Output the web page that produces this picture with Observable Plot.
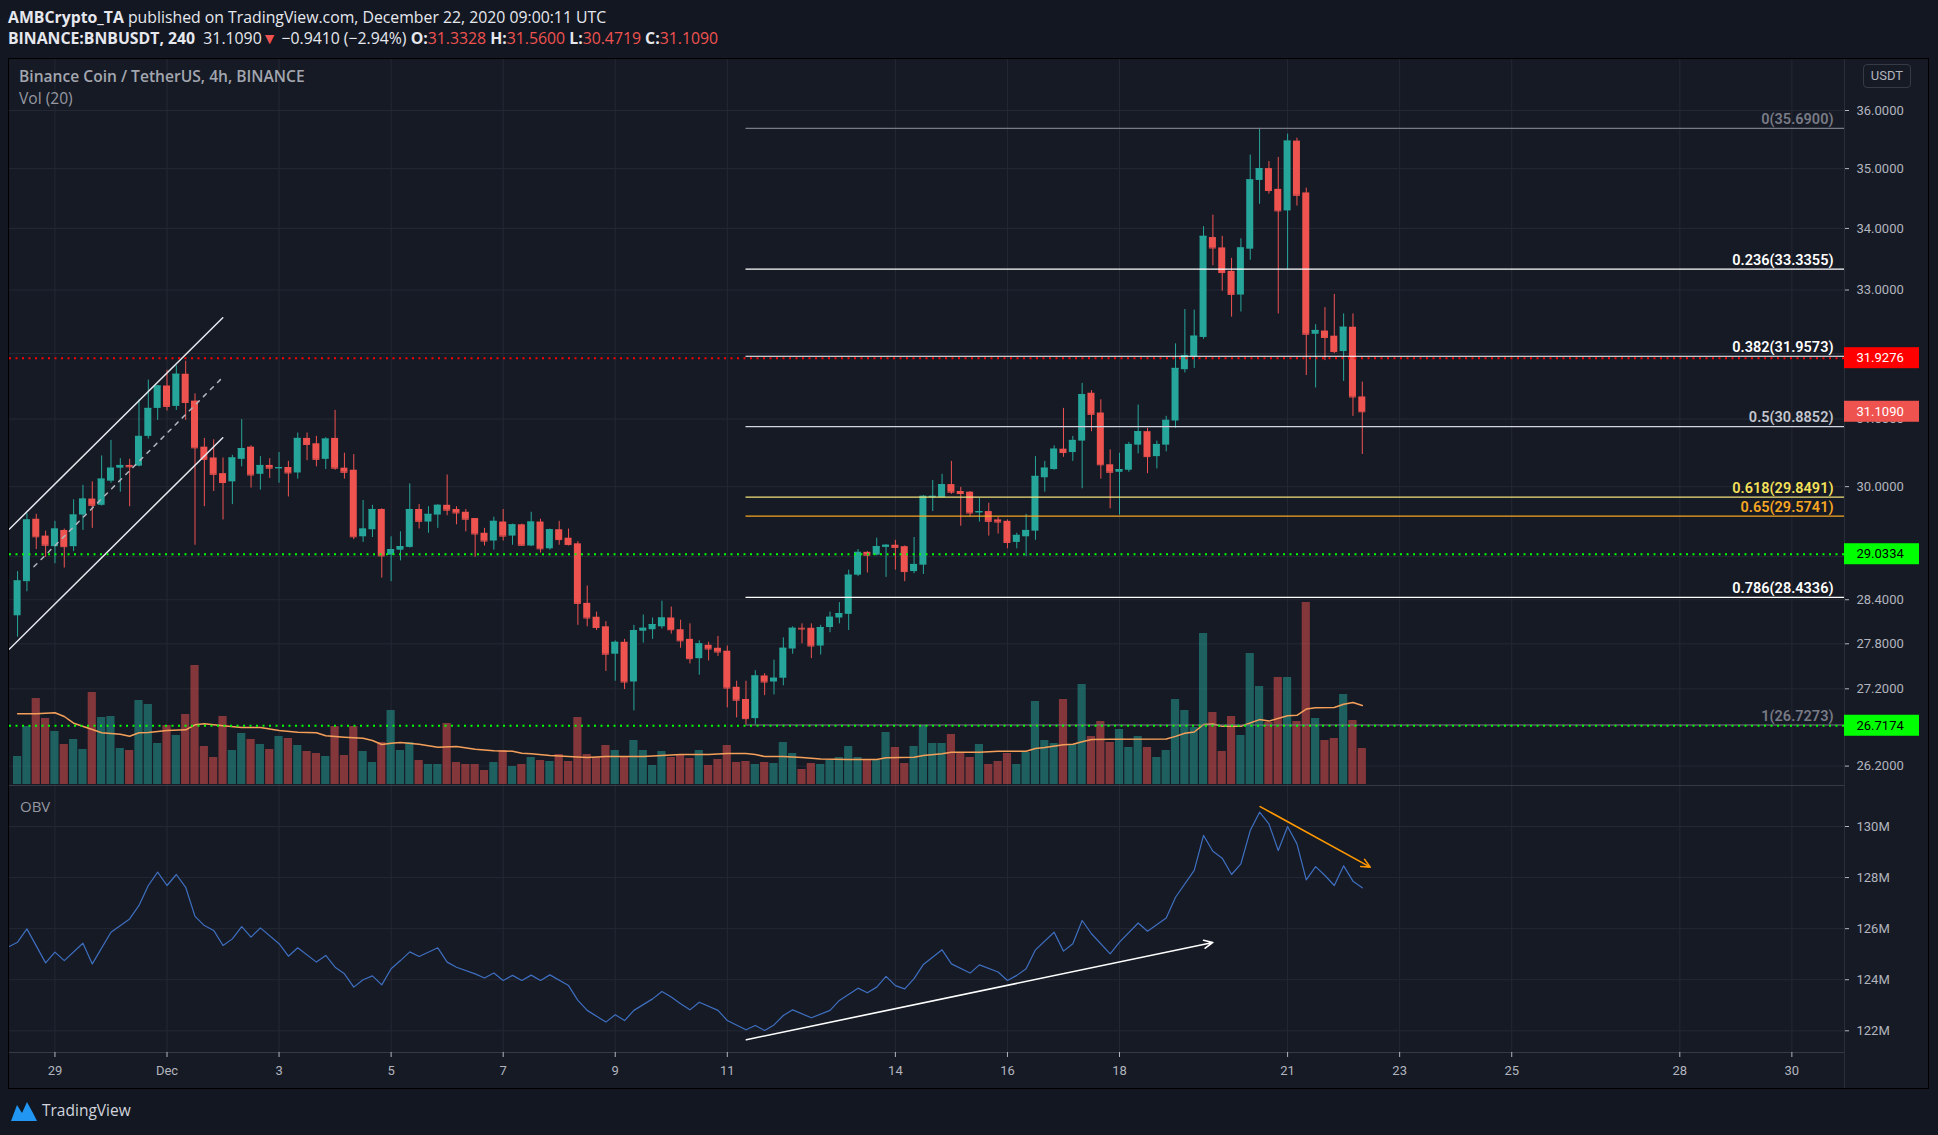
<!DOCTYPE html>
<html>
<head>
<meta charset="utf-8">
<script src="https://cdn.jsdelivr.net/npm/d3@7"></script>
<script src="https://cdn.jsdelivr.net/npm/@observablehq/plot@0.6"></script>
<style>
html,body{margin:0;padding:0;background:#131722;}
#wrap{position:relative;width:1938px;height:1135px;overflow:hidden;background:#131722;font-family:"Open Sans",sans-serif;}
#pane{position:absolute;left:8px;top:58px;width:1921px;height:1031px;box-sizing:border-box;background:#161a25;border:1px solid #000;}
.sep{position:absolute;background:#2a2e39;}
#layers{position:absolute;left:0;top:0;width:1938px;height:1135px;}
#layers svg{position:absolute;left:0;top:0;}
.txt{position:absolute;white-space:nowrap;line-height:20px;}
#usdt{position:absolute;left:1863px;top:64px;width:48px;height:24px;box-sizing:border-box;border:1px solid #363a45;border-radius:4px;color:#b2b5be;font:13px Roboto,sans-serif;text-align:center;line-height:22px;}
</style>
</head>
<body>
<div id="wrap">
  <div id="pane"></div>
  <div class="sep" style="left:1844px;top:59px;width:1px;height:1029px;"></div>
  <div class="sep" style="left:9px;top:785px;width:1835px;height:1px;background:#363a45"></div>
  <div class="sep" style="left:9px;top:1052px;width:1835px;height:1px;background:#363a45"></div>
  <div id="layers"></div>
  <div class="txt" style="left:8px;top:7px;font-size:15.8px;color:#e6e8ee;"><b>AMBCrypto_TA</b> published on TradingView.com, December 22, 2020 09:00:11 UTC</div>
  <div class="txt" style="left:8px;top:28px;font-size:15.8px;color:#e6e8ee;"><b>BINANCE:BNBUSDT, 240</b>&nbsp; 31.1090<span style="color:#ef5350">▼</span> −0.9410 (−2.94%) <b>O:</b><span style="color:#ef5350">31.3328</span> <b>H:</b><span style="color:#ef5350">31.5600</span> <b>L:</b><span style="color:#ef5350">30.4719</span> <b>C:</b><span style="color:#ef5350">31.1090</span></div>
  <div class="txt" style="left:19px;top:66px;font-size:15.6px;font-weight:600;color:#a3a6af;">Binance Coin / TetherUS, 4h, BINANCE</div>
  <div class="txt" style="left:19px;top:88px;font-size:15.6px;color:#9598a1;">Vol (20)</div>
  <div class="txt" style="left:20px;top:796px;font-size:15px;color:#9598a1;">OBV</div>
  <div id="usdt">USDT</div>
  <svg style="position:absolute;left:9px;top:1099px" width="30" height="24" viewBox="0 0 30 24">
    <path d="M2 22 L8 6 L13 14 L18 3 L24 14 L28 22 Z" fill="#2196f3"/>
  </svg>
  <div class="txt" style="left:42px;top:1100px;font-size:15.5px;color:#d1d4dc;">TradingView</div>
</div>
<script>
// ---------- data (4h candles from 2020-11-28 08:00 UTC) ----------
const opens  = [28.18,28.65,29.53,29.29,29.14,29.37,29.14,29.59,29.82,29.73,30.08,30.27,30.31,30.30,30.74,31.16,31.50,31.19,31.68,31.27,30.58,30.42,30.19,30.07,30.40,30.58,30.18,30.31,30.26,30.28,30.20,30.71,30.63,30.40,30.71,30.27,30.24,29.28,29.38,29.67,29.02,29.09,29.13,29.67,29.49,29.59,29.73,29.67,29.63,29.54,29.33,29.22,29.49,29.29,29.45,29.15,29.49,29.11,29.38,29.26,29.18,28.35,28.16,28.03,27.66,27.82,27.29,27.97,27.99,28.03,28.15,27.99,27.86,27.60,27.78,27.74,27.70,27.22,27.06,26.81,27.37,27.29,27.34,27.73,28.01,28.01,27.77,28.02,28.15,28.20,28.74,29.06,29.02,29.13,29.16,29.14,28.79,28.88,29.84,29.84,30.03,29.93,29.92,29.62,29.64,29.52,29.50,29.20,29.28,29.36,30.13,30.25,30.55,30.50,30.67,31.39,31.09,30.32,30.21,30.24,30.61,30.81,30.44,30.61,30.97,31.75,31.95,32.25,33.85,33.68,33.30,32.92,33.66,34.80,35.00,34.65,34.29,35.47,34.59,32.30,32.35,32.27,32.03,32.41,31.3328];
const highs  = [28.79,29.61,29.60,29.36,29.50,29.39,29.81,30.02,30.07,30.45,30.68,30.41,30.40,31.29,31.59,31.51,31.74,31.81,31.88,31.38,30.71,30.69,30.42,30.46,30.99,30.60,30.44,30.41,30.50,30.37,30.79,30.79,30.74,30.72,31.13,30.49,30.47,29.80,29.73,29.68,29.28,29.35,30.04,29.74,29.71,29.74,30.17,29.71,29.67,29.54,29.40,29.56,29.67,29.46,29.46,29.63,29.53,29.39,29.50,29.39,29.21,28.59,28.23,28.10,27.84,27.86,28.05,28.19,28.15,28.38,28.30,28.12,28.07,27.84,27.82,27.90,27.77,27.30,27.30,27.44,27.40,27.58,27.88,28.03,28.07,28.07,28.05,28.23,28.36,28.81,29.10,29.07,29.26,29.17,29.23,29.15,29.27,29.87,30.09,30.18,30.37,29.99,29.93,29.83,29.76,29.56,29.52,29.33,29.60,30.44,30.37,30.60,31.16,30.74,31.54,31.43,31.29,30.54,30.49,30.65,31.21,30.86,30.67,31.04,32.15,32.69,32.68,34.03,34.22,33.87,33.51,33.83,35.23,35.69,35.12,35.19,35.59,35.52,34.67,32.45,32.72,32.93,32.62,32.62,31.56];
const lows   = [27.89,28.51,29.10,28.99,28.90,28.84,29.07,29.37,29.40,29.72,30.05,29.92,29.71,30.29,30.70,30.98,31.12,31.13,30.98,29.16,29.71,29.93,29.52,29.74,30.29,29.98,29.95,30.12,30.05,29.85,30.11,30.38,30.29,30.25,30.24,30.11,29.24,29.20,29.27,28.70,28.65,28.94,29.12,29.39,29.33,29.40,29.58,29.45,29.35,28.99,29.15,29.09,29.22,29.16,29.15,29.14,29.05,29.09,29.16,29.15,28.05,28.03,27.98,27.43,27.30,27.19,26.91,27.81,27.86,28.00,27.93,27.74,27.53,27.38,27.57,27.63,26.95,26.82,26.7273,26.73,27.11,27.12,27.24,27.66,27.80,27.60,27.65,27.95,28.07,27.98,28.72,28.77,29.01,28.71,28.81,28.65,28.76,28.75,29.64,29.84,29.89,29.43,29.57,29.49,29.29,29.32,29.11,29.11,29.00,29.23,29.92,30.24,30.43,30.37,29.97,30.81,30.11,29.68,29.59,30.21,30.48,30.19,30.26,30.51,30.86,31.70,31.77,32.22,33.39,32.98,32.57,32.65,33.48,34.40,34.57,32.62,33.33,34.37,31.66,31.47,31.89,32.00,31.57,31.04,30.4719];
const closes = [28.66,29.52,29.28,29.16,29.39,29.14,29.59,29.82,29.73,30.11,30.27,30.31,30.29,30.74,31.16,31.50,31.19,31.68,31.25,30.57,30.40,30.18,30.06,30.42,30.56,30.17,30.31,30.27,30.28,30.20,30.71,30.62,30.40,30.70,30.27,30.21,29.28,29.39,29.67,29.01,29.10,29.14,29.67,29.50,29.60,29.73,29.66,29.62,29.53,29.32,29.22,29.50,29.29,29.45,29.16,29.49,29.11,29.38,29.24,29.17,28.35,28.15,28.02,27.66,27.82,27.29,27.98,28.01,28.06,28.15,27.99,27.84,27.60,27.80,27.73,27.69,27.21,27.05,26.81,27.37,27.29,27.34,27.74,28.01,28.00,27.77,28.02,28.16,28.21,28.74,29.06,29.02,29.14,29.16,29.13,28.79,28.89,29.86,29.86,30.03,29.92,29.90,29.62,29.64,29.50,29.49,29.20,29.30,29.37,30.15,30.27,30.55,30.50,30.68,31.37,31.07,30.32,30.21,30.25,30.62,30.81,30.44,30.62,30.98,31.77,31.97,32.27,33.87,33.68,33.28,32.93,33.68,34.81,35.00,34.63,34.29,35.47,34.55,32.30,32.36,32.25,32.03,32.41,31.3328,31.1090];
// volume, thousands of BNB (estimated)
const volumes = [280,580,860,660,530,400,450,350,920,670,680,360,340,840,800,410,590,490,700,1190,380,270,680,340,510,450,400,350,480,460,390,330,310,280,580,290,580,330,220,420,740,340,420,240,200,200,610,220,200,200,140,220,340,180,200,270,240,230,300,230,670,300,270,390,340,280,440,340,190,330,270,300,260,340,190,250,390,220,230,200,220,210,420,310,150,210,200,240,270,380,270,250,240,520,370,210,380,590,410,410,500,320,270,400,200,230,310,200,320,830,440,410,850,400,1000,480,630,420,550,370,480,370,270,340,850,740,570,1510,720,330,680,490,1310,980,620,1070,1070,630,1820,660,440,460,900,640,360];
// Vol MA(20) at these candle indices
const maIdx = [0,2,4,5,6,8,9,11,12,13,14,16,18,19,20,22,24,26,28,30,32,33,35,37,38,39,40,41,43,45,47,49,51,53,54,55,57,59,61,63,65,67,69,71,74,76,78,79,80,82,84,86,89,92,93,96,97,99,100,103,105,108,109,110,112,113,114,115,117,123,124,125,126,127,128,129,131,133,134,136,137,138,139,141,142,143,144];
const maVal = [707,707,717,680,613,550,517,503,483,517,520,540,547,597,607,587,570,570,540,523,517,487,473,463,440,400,413,420,403,373,380,353,337,333,313,307,290,280,270,280,280,280,290,300,300,310,310,300,280,280,270,255,250,250,267,273,290,307,323,323,333,333,360,370,397,403,427,450,453,455,481,512,525,600,604,582,582,649,634,688,692,754,767,770,803,820,790];
// OBV (millions), read at candle indices
const obvIdx = [-1,0,1,3,4,5,7,8,10,12,13,14,15,16,17,18,19,20,21,22,23,24,25,26,28,29,30,32,33,34,35,36,37,38,39,40,41,42,43,45,46,47,49,50,51,52,53,54,55,56,57,59,60,61,63,64,65,66,68,69,70,71,72,73,75,76,78,79,80,81,82,83,85,87,88,90,91,92,93,94,95,96,97,99,100,102,103,105,106,107,108,109,111,112,113,114,115,117,118,120,121,123,124,126,127,128,129,130,131,132,133,134,135,136,137,138,139,140,141,142,143,144];
const obvVal = [125.28,125.47,125.99,124.66,125.08,124.75,125.43,124.62,125.86,126.38,126.91,127.69,128.21,127.69,128.12,127.62,126.48,126.12,125.93,125.34,125.6,126.08,125.67,126.03,125.41,124.92,125.25,124.69,124.95,124.49,124.23,123.71,124.0,124.15,123.8,124.43,124.75,125.09,124.91,125.25,124.69,124.49,124.23,124.07,124.26,123.97,124.17,123.97,124.18,123.97,124.19,123.77,123.19,122.8,122.34,122.63,122.4,122.8,123.25,123.54,123.32,123.06,122.82,123.12,122.8,122.4,122.04,122.21,122.01,122.23,122.6,122.82,122.51,122.8,123.19,123.67,123.49,123.71,124.13,123.77,123.64,124.04,124.6,125.17,124.62,124.26,124.58,124.3,123.97,124.17,124.43,125.17,125.86,125.12,125.41,126.32,125.8,125.01,125.47,126.22,125.9,126.42,127.23,128.28,129.65,129.03,128.76,128.12,128.54,129.84,130.56,130.1,129.06,130.0,129.32,127.91,128.43,128.08,127.69,128.46,127.86,127.6];
// Fibonacci retracement (anchored at candle 78 low)
const fibLevels = [0,0.236,0.382,0.5,0.618,0.65,0.786,1];
const fibPrices = [35.69,33.3355,31.9573,30.8852,29.8491,29.5741,28.4336,26.7273];
const fibStartIdx = 78;
// horizontal levels
const hlinePrices = [31.9276,29.0334,26.7174];
// price tags on the axis
const tagPrices = [31.9276,31.1090,29.0334,26.7174];
// rising channel drawing (candle index, price)
const chUpIdx = [-0.87,21.97], chUpPrice = [29.39,32.56];
const chLoIdx = [-0.87,21.97], chLoPrice = [27.73,30.72];
const chMidIdx = [1.76,21.94], chMidPrice = [28.86,31.63];
// OBV trend arrows
const arrowIdx1 = [78.04,133.06], arrowObv1 = [121.65,130.78];
const arrowIdx2 = [128.0,144.85], arrowObv2 = [125.46,128.41];
// ticks
const priceGridTicks = [36,35,34,33,32,31,30,29,28.4,27.8,27.2,26.2];
const priceLabelTicks = [36,35,34,33,31,30,28.4,27.8,27.2,26.2];
const obvTicks = [122,124,126,128,130];
const timeTickDays = ["2020-11-29","2020-12-01","2020-12-03","2020-12-05","2020-12-07","2020-12-09","2020-12-11","2020-12-14","2020-12-16","2020-12-18","2020-12-21","2020-12-23","2020-12-25","2020-12-28","2020-12-30"];
const timeTickLabels = ["29","Dec","3","5","7","9","11","14","16","18","21","23","25","28","30"];

// ---------- styles ----------
const teal = "#26a69a", red = "#ef5350", gridC = "#242834";
const fibLineColors = ["#787b86","#ffffff","#ffffff","#d1d4dc","#f2e27a","#f5a623","#ffffff","#787b86"];
const fibTextColors = ["#787b86","#ffffff","#ffffff","#c3c6ce","#f5e15a","#f5a623","#ffffff","#787b86"];
const hlineColors = ["#ff0000","#00ff00","#00ff00"];
const tagFill = ["#ff0000","#ef5350","#00ff00","#00ff00"];
const tagTextFill = ["#ffffff","#ffffff","#000000","#000000"];

// ---------- build ----------
const H = 3600e3;
const t0 = Date.UTC(2020,10,28,8);
const at = i => new Date(t0 + i*4*H);
const candles = opens.map((o,i)=>({t:at(i), o, h:highs[i], l:lows[i], c:closes[i], v:volumes[i]}));
const col = d => d.c >= d.o ? teal : red;
const maPts = maIdx.map((k,j)=>({t:at(k), v:maVal[j]}));
const obvPts = obvIdx.map((k,j)=>({t:at(k), v:obvVal[j]}));
const fibs = fibLevels.map((l,j)=>({l, p:fibPrices[j], lc:fibLineColors[j], tc:fibTextColors[j]}));
const mkLine = (ii,pp) => ii.map((k,j)=>({t:at(k), p:pp[j]}));
const chUp = mkLine(chUpIdx,chUpPrice), chLo = mkLine(chLoIdx,chLoPrice), chMid = mkLine(chMidIdx,chMidPrice);
const arrows = [
  {x1:at(arrowIdx1[0]), y1:arrowObv1[0], x2:at(arrowIdx2[0]), y2:arrowObv2[0], c:"#ffffff"},
  {x1:at(arrowIdx1[1]), y1:arrowObv1[1], x2:at(arrowIdx2[1]), y2:arrowObv2[1], c:"#ff9800"}
];
const timeTicks = timeTickDays.map(s=>new Date(s+"T00:00:00Z"));
const tickLabel = new Map(timeTicks.map((d,i)=>[+d, timeTickLabels[i]]));
const tags = tagPrices.map((p,j)=>({p, f:tagFill[j], tf:tagTextFill[j]}));

// layout
const W = 1938, HT = 1135;
const fL = 9, fR = 1844, pTop = 59, pBot = 785, oTop = 786, oBot = 1052;
const dayPx = 56.03, dec1X = 166.5, dec1 = Date.UTC(2020,11,1);
const pxDate = px => new Date(dec1 + (px - dec1X)/dayPx*864e5);
const X = {type:"utc", domain:[pxDate(fL), pxDate(fR)], range:[fL, fR], axis:null};
const YP = {type:"log", domain:[26.2,36], range:[765.6,110], axis:null};
const base = {width:W, height:HT, marginLeft:fL, marginRight:W-fR, color:{type:"identity"},
  style:{background:"transparent", color:"#b2b5be", fontFamily:"Roboto, sans-serif", fontSize:"13px", overflow:"visible", maxWidth:"none"}};
const priceM = {marginTop:pTop, marginBottom:HT-pBot};
const hw = 1.5*H, vw = 1.75*H;

const layers = document.getElementById("layers");
function add(p){ layers.appendChild(p); }

// 1: price grid
add(Plot.plot({...base, ...priceM, x:X, y:YP, marks:[
  Plot.ruleY(priceGridTicks, {stroke:gridC}),
  Plot.ruleX(timeTicks, {stroke:gridC})
]}));

// 2: volume
add(Plot.plot({...base, ...priceM, x:X, y:{domain:[0,1840], range:[784,600], axis:null}, marks:[
  Plot.rect(candles, {x1:d=>new Date(+d.t-vw), x2:d=>new Date(+d.t+vw), y1:0, y2:"v", fill:col, fillOpacity:0.5, clip:true}),
  Plot.line(maPts, {x:"t", y:"v", stroke:"#f5a05a", strokeWidth:1.5, clip:true})
]}));

// 3: candles + drawings
add(Plot.plot({...base, ...priceM, x:X, y:YP, marks:[
  Plot.ruleX(candles, {x:"t", y1:"l", y2:"h", stroke:col, clip:true}),
  Plot.rect(candles, {x1:d=>new Date(+d.t-hw), x2:d=>new Date(+d.t+hw), y1:"o", y2:"c", fill:col, clip:true}),
  Plot.ruleY(candles, {x1:d=>new Date(+d.t-hw), x2:d=>new Date(+d.t+hw), y:"c", stroke:col, clip:true}),
  Plot.line(chUp, {x:"t", y:"p", stroke:"#e6e8ee", strokeWidth:1.5, clip:true}),
  Plot.line(chLo, {x:"t", y:"p", stroke:"#e6e8ee", strokeWidth:1.5, clip:true}),
  Plot.line(chMid, {x:"t", y:"p", stroke:"#b2b5be", strokeWidth:1.5, strokeDasharray:"4,6", clip:true}),
  Plot.ruleY(fibs, {y:"p", x1:()=>at(fibStartIdx), x2:()=>X.domain[1], stroke:"lc", strokeWidth:1.2, clip:true}),
  Plot.text(fibs, {y:"p", text:d=>`${d.l}(${d.p.toFixed(4)})`, frameAnchor:"right", textAnchor:"end", dx:-11, dy:-9, fill:"tc", fontSize:14.5, fontWeight:600}),
  Plot.ruleY(hlinePrices, {stroke:(d,i)=>hlineColors[i], strokeWidth:2, strokeDasharray:"2,4.5"}),
  Plot.axisY({anchor:"right", ticks:priceLabelTicks, tickFormat:d3.format(".4f"), tickSize:4, tickPadding:8, fontSize:13})
]}));

// 4: OBV pane + time axis
add(Plot.plot({...base, marginTop:oTop, marginBottom:HT-oBot, x:X, y:{domain:[122,130], range:[1030.3,826], axis:null}, marks:[
  Plot.ruleY(obvTicks, {stroke:gridC}),
  Plot.ruleX(timeTicks, {stroke:gridC}),
  Plot.line(obvPts, {x:"t", y:"v", stroke:"#3e6fc0", strokeWidth:1.2, clip:true}),
  Plot.arrow(arrows, {x1:"x1", y1:"y1", x2:"x2", y2:"y2", stroke:"c", strokeWidth:1.6, bend:0, headLength:9, headAngle:50}),
  Plot.axisY({anchor:"right", ticks:obvTicks, tickFormat:d=>d+"M", tickSize:4, tickPadding:8, fontSize:13}),
  Plot.axisX({anchor:"bottom", ticks:timeTicks, tickFormat:d=>tickLabel.get(+d), tickSize:5, tickPadding:8, fontSize:13})
]}));

// 5: price tags on right axis
add(Plot.plot({...base, marginLeft:fR, marginRight:19, ...priceM, x:{domain:[0,1], axis:null}, y:YP, marks:[
  Plot.rect(tags, {x1:0, x2:1, y1:"p", y2:"p", insetTop:-10.5, insetBottom:-10.5, fill:"f"}),
  Plot.text(tags, {y:"p", text:d=>d.p.toFixed(4), frameAnchor:"left", textAnchor:"start", dx:12, fill:"tf", fontSize:13})
]}));
</script>
</body>
</html>
